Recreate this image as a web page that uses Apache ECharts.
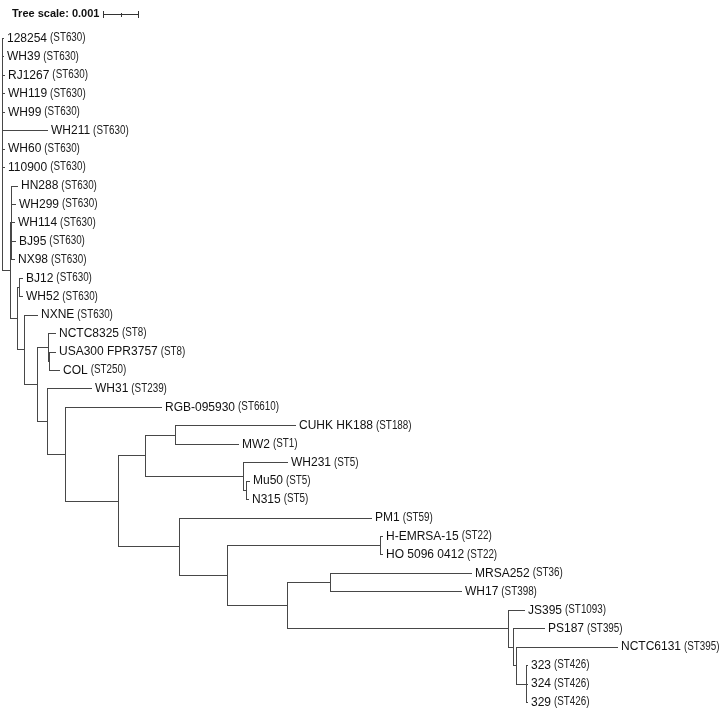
<!DOCTYPE html>
<html><head><meta charset="utf-8">
<script src="https://cdn.jsdelivr.net/npm/echarts@6/dist/echarts.min.js"></script>
<style>html,body{margin:0;padding:0;background:#fff}#c{width:720px;height:709px}</style>
</head><body><div id="c"></div>
<script>
// Leaves, top to bottom
const leafNames = ['128254','WH39','RJ1267','WH119','WH99','WH211','WH60','110900','HN288','WH299','WH114','BJ95','NX98','BJ12','WH52','NXNE','NCTC8325','USA300 FPR3757','COL','WH31','RGB-095930','CUHK HK188','MW2','WH231','Mu50','N315','PM1','H-EMRSA-15','HO 5096 0412','MRSA252','WH17','JS395','PS187','NCTC6131','323','324','329'];
const leafST = ['ST630','ST630','ST630','ST630','ST630','ST630','ST630','ST630','ST630','ST630','ST630','ST630','ST630','ST630','ST630','ST630','ST8','ST8','ST250','ST239','ST6610','ST188','ST1','ST5','ST5','ST5','ST59','ST22','ST22','ST36','ST398','ST1093','ST395','ST395','ST426','ST426','ST426'];
const leafParent = ['root','root','root','root','root','root','root','root','N1a','N1a','N1a','N1a','N1a','N3','N3','N4','N6','N6b','N6b','N7','N8','N12','N12','N13','N14','N14','N11','N16','N16','N18','N18','N19','N20','N21','N22','N22','N22'];
const leafBranch = [0.00006,0.00006,0.00009,0.00009,0.00009,0.00135,0.00009,0.00009,0.00021,0.00015,0.00012,0.00015,0.00012,0.00012,0.00012,0.00041,0.00024,0.00021,0.00032,0.00132,0.00285,0.00356,0.00188,0.00132,0.00012,0.00009,0.00568,0.00009,0.00009,0.00418,0.00388,0.0005,0.00094,0.003,0.00006,0.00006,0.00006];
// Internal nodes
const innerNames = ['N1','N1a','N2','N3','N4','N5','N6','N6b','N7','N8','N9','N10','N11','N12','N13','N14','N15','N16','N17','N18','N19','N20','N21','N22'];
const innerParent = ['root','N1','N1','N2','N2','N4','N5','N6','N5','N7','N8','N9','N9','N10','N10','N13','N11','N15','N15','N17','N17','N19','N20','N21'];
const innerBranch = [0.00024,0.00003,0.00021,0.00006,0.00021,0.00038,0.00032,0.00003,0.00029,0.00053,0.00156,0.00079,0.00179,0.00088,0.00288,0.00009,0.00141,0.0045,0.00176,0.00126,0.0065,0.00015,0.00009,0.00029];
const treeScale = 0.001;

// build tree
const parent = {}, blen = {}, children = {root: []};
innerNames.forEach((n,i)=>{ parent[n]=innerParent[i]; blen[n]=innerBranch[i]; children[n]=children[n]||[]; });
leafNames.forEach((n,i)=>{ const id='L'+i; parent[id]=leafParent[i]; blen[id]=leafBranch[i]; });
Object.keys(parent).forEach(id=>{ (children[parent[id]] = children[parent[id]] || []).push(id); });
const X = {root:0}, Y = {};
function depth(id){ if (id in X) return X[id]; X[id] = depth(parent[id]) + blen[id]; return X[id]; }
Object.keys(parent).forEach(depth);
function ypos(id){
  if (id in Y) return Y[id];
  if (id[0]==='L' && !children[id]) { Y[id] = +id.slice(1); return Y[id]; }
  const ys = children[id].map(ypos);
  Y[id] = (Math.min(...ys) + Math.max(...ys)) / 2; return Y[id];
}
ypos('root');
const segs = [];
Object.keys(parent).forEach(id=>{ segs.push([X[parent[id]], Y[id], X[id], Y[id]]); });
Object.keys(children).forEach(id=>{
  const ys = children[id].map(c=>Y[c]);
  segs.push([X[id], Math.min(...ys), X[id], Math.max(...ys)]);
});
const leafData = leafNames.map((n,i)=>[X['L'+i], i, n, leafST[i]]);

const NAME_FONT = '12px "Liberation Sans", Arial, sans-serif';
const mctx = document.createElement('canvas').getContext('2d');
mctx.font = NAME_FONT;

const chart = echarts.init(document.getElementById('c'), null, {renderer:'canvas'});
const LC = '#474747';
const crisp = v => Math.round(v) + 0.5;
chart.setOption({
  animation:false,
  grid:{left:2, top:38, width:717.4, bottom:7},
  xAxis:{type:'value', min:0, max:0.0211, show:false},
  yAxis:{type:'value', min:0, max:36, inverse:true, show:false},
  series:[
    {type:'custom', coordinateSystem:'cartesian2d', clip:false, data:segs,
      renderItem:(params, api)=>{
        const a = api.coord([api.value(0), api.value(1)]), b = api.coord([api.value(2), api.value(3)]);
        let x1=a[0], y1=a[1], x2=b[0], y2=b[1];
        if (y1===y2) { y1=y2=crisp(y1); x1=Math.round(x1); x2=Math.round(x2); }
        else { x1=x2=crisp(x1); y1=Math.round(y1); y2=Math.round(y2)+1; }
        return {type:'line', shape:{x1,y1,x2,y2}, style:{stroke:LC, lineWidth:1}};
      }},
    {type:'custom', coordinateSystem:'cartesian2d', clip:false, data:leafData,
      renderItem:(params, api)=>{
        const p = api.coord([api.value(0), api.value(1)]);
        const d = leafData[params.dataIndex];
        const x0 = Math.round(p[0]) + 3, yc = p[1] + 0.5;
        const w = mctx.measureText(d[2]).width;
        return {type:'group', children:[
          {type:'text', x:x0, y:yc, style:{text:d[2], align:'left', verticalAlign:'middle',
            font: NAME_FONT, fill:'#111'}},
          {type:'text', x:x0 + w + 3, y:yc - 0.5, scaleX:0.82, style:{text:'('+d[3]+')', align:'left', verticalAlign:'middle',
            fontFamily:'"Liberation Sans", Arial, sans-serif', fontSize:12, fill:'#222'}}
        ]};
      }},
    {type:'custom', coordinateSystem:'cartesian2d', clip:false, data:[[0, treeScale]],
      renderItem:(params, api)=>{
        const len = api.coord([api.value(1),0])[0] - api.coord([api.value(0),0])[0];
        const x0 = 103.5, y0 = 14.5, x1 = Math.round(x0+len)+0.5, xm = Math.round(x0+len/2)+0.5;
        return {type:'group', children:[
          {type:'text', x:12, y:14, style:{text:'Tree scale: '+treeScale, align:'left', verticalAlign:'middle',
            fontFamily:'"Liberation Sans", Arial, sans-serif', fontSize:11, fontWeight:'bold', fill:'#111'}},
          {type:'line', shape:{x1:x0, y1:y0, x2:x1, y2:y0}, style:{stroke:'#333', lineWidth:1}},
          {type:'line', shape:{x1:x0, y1:11, x2:x0, y2:18}, style:{stroke:'#333', lineWidth:1}},
          {type:'line', shape:{x1:x1, y1:11, x2:x1, y2:18}, style:{stroke:'#333', lineWidth:1}},
          {type:'line', shape:{x1:xm, y1:13, x2:xm, y2:17}, style:{stroke:'#333', lineWidth:1}}
        ]};
      }}
  ]
});
</script></body></html>
